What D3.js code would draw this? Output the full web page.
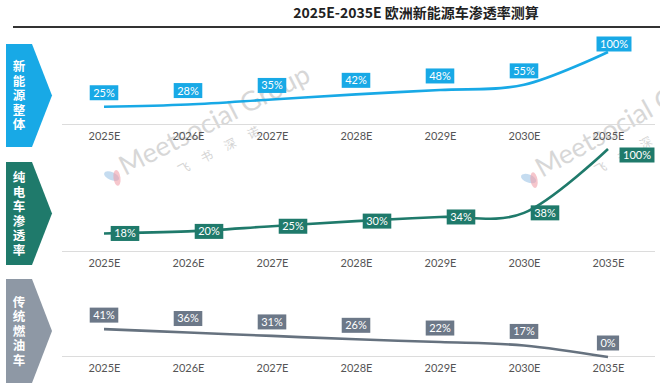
<!DOCTYPE html>
<html>
<head>
<meta charset="utf-8">
<script src="https://cdn.jsdelivr.net/npm/d3@7"></script>
<style>
  body { margin: 0; background: #fff; }
  svg { display: block; }
</style>
</head>
<body>
<script>
// data
const years = ["2025E", "2026E", "2027E", "2028E", "2029E", "2030E", "2035E"];
const nevTotal = [25, 28, 35, 42, 48, 55, 100];   // 新能源整体
const bevShare = [18, 20, 25, 30, 34, 38, 100];   // 纯电车渗透率
const iceShare = [41, 36, 31, 26, 22, 17, 0];     // 传统燃油车
const panelNames = ["新能源整体", "纯电车渗透率", "传统燃油车"];
const titleText = "2025E-2035E 欧洲新能源车渗透率测算";

const W = 660, H = 385;
const svg = d3.select("body").append("svg").attr("width", W).attr("height", H);

const x = d3.scalePoint().domain(years).range([104, 608]);

// title + rule
svg.append("text").attr("x", 416).attr("y", 18).attr("text-anchor", "middle")
  .style("font-family", "'Noto Sans CJK SC', sans-serif").style("font-weight", "bold")
  .style("font-size", "14px").attr("fill", "#222").text(titleText);
svg.append("line").attr("x1", 13).attr("x2", 660).attr("y1", 27).attr("y2", 27)
  .attr("stroke", "#333").attr("stroke-width", 2);

// watermarks
const wm = svg.append("g").attr("pointer-events", "none");
function watermark(px, py, ang) {
  const g = wm.append("g").attr("transform", `translate(${px},${py}) rotate(${ang})`);
  g.append("ellipse").attr("cx", -12).attr("cy", -6).attr("rx", 4).attr("ry", 8)
    .attr("transform", "rotate(-40,-12,-6)").attr("fill", "#9ec5e6").attr("opacity", 0.6);
  g.append("ellipse").attr("cx", -8).attr("cy", -2).attr("rx", 3.5).attr("ry", 8)
    .attr("transform", "rotate(20,-8,-2)").attr("fill", "#f0a0aa").attr("opacity", 0.6);
  g.append("text").attr("x", 0).attr("y", 0)
    .style("font-family", "Lato, sans-serif").style("font-size", "27px")
    .attr("fill", "#b8b8b8").attr("opacity", 0.55).text("Meetsocial Group");
  g.append("text").attr("x", 50).attr("y", 24)
    .style("font-family", "'Noto Sans CJK SC', sans-serif").style("font-size", "12px")
    .style("letter-spacing", "14px")
    .attr("fill", "#b8b8b8").attr("opacity", 0.6).text("飞书深诺");
}
watermark(125, 176, -27);
watermark(542, 178, -29);

const panels = [
  { name: panelNames[0], data: nevTotal, top: 44, bottom: 147, y0: 125, y100: 52,
    fill: "#18a9e6", line: "#18a9e6", box: "#18a9e6", label: "above" },
  { name: panelNames[1], data: bevShare, top: 162, bottom: 265, y0: 252, y100: 149,
    fill: "#1f7a6b", line: "#1f7a6b", box: "#1f7a6b", label: "right" },
  { name: panelNames[2], data: iceShare, top: 279, bottom: 383, y0: 357, y100: 289,
    fill: "#8e98a5", line: "#66727f", box: "#6c7888", label: "above" }
];

panels.forEach(p => {
  const y = d3.scaleLinear().domain([0, 100]).range([p.y0, p.y100]);
  const g = svg.append("g");
  const baseY = Math.round(p.y0) - 0.5;

  // chevron tag
  const mid = (p.top + p.bottom) / 2;
  g.append("path")
    .attr("d", `M6,${p.top} L32,${p.top} L52,${mid} L32,${p.bottom} L6,${p.bottom} Z`)
    .attr("fill", p.fill);
  g.append("text")
    .attr("x", 19).attr("y", mid + 1)
    .attr("text-anchor", "middle")
    .style("writing-mode", "vertical-rl")
    .style("letter-spacing", "2px")
    .style("font-family", "'Noto Sans CJK SC', sans-serif").style("font-weight", "bold")
    .style("font-size", "12.5px").attr("fill", "#fff").text(p.name);

  // baseline + axis
  g.append("line").attr("x1", 62).attr("x2", 655).attr("y1", baseY).attr("y2", baseY)
    .attr("stroke", "#dcdcdc").attr("stroke-width", 1);
  const ax = g.append("g").attr("transform", `translate(0,${baseY})`)
    .call(d3.axisBottom(x).tickSize(0).tickPadding(8));
  ax.select(".domain").remove();
  ax.selectAll("text").style("font-family", "Lato, sans-serif").style("font-size", "11px")
    .attr("fill", "#555");

  // line
  const pts = years.map((yr, i) => ({ yr, v: p.data[i] }));
  g.append("path").datum(pts)
    .attr("d", d3.line().x(d => x(d.yr)).y(d => y(d.v)).curve(d3.curveCardinal.tension(0)))
    .attr("fill", "none").attr("stroke", p.line).attr("stroke-width", 2.6);

  // value labels
  const lab = g.selectAll(".lab").data(pts).join("g")
    .attr("transform", (d, i) => {
      const last = i === pts.length - 1;
      let cx = x(d.yr), cy = y(d.v);
      if (p.label === "above") { cy -= last && p.data[i] === 100 ? 8 : 14; if (last && p.data[i] === 100) cx += 6; }
      else { cx += last ? 29 : 21; cy += last ? 6 : 0; }
      return `translate(${cx},${cy})`;
    });
  lab.each(function(d) {
    const gg = d3.select(this);
    const t = gg.append("text").attr("text-anchor", "middle").attr("dy", "0.36em")
      .style("font-family", "Lato, sans-serif").style("font-size", "11px")
      .attr("fill", "#fff").text(d.v + "%");
    const w = t.node().getComputedTextLength() + 7;
    gg.insert("rect", "text").attr("x", -w / 2).attr("y", -7.5).attr("width", w).attr("height", 15)
      .attr("fill", p.box);
  });
});
</script>
</body>
</html>
